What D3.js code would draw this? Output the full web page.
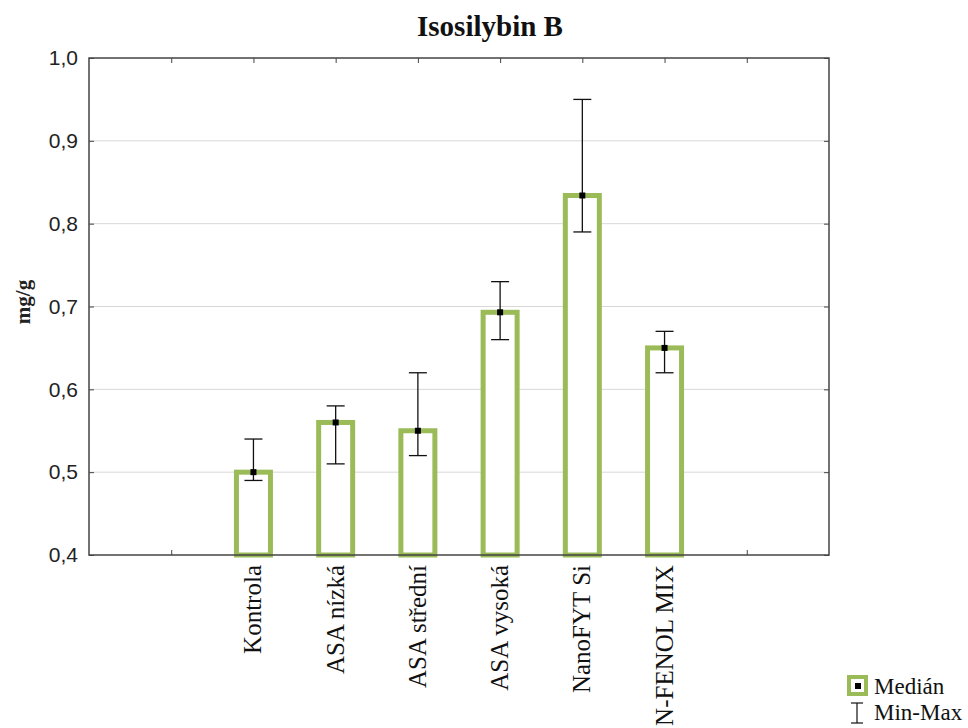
<!DOCTYPE html>
<html><head><meta charset="utf-8">
<script src="https://cdn.jsdelivr.net/npm/d3@7"></script>
<style>body{margin:0;background:#fff}</style>
</head><body>
<svg id="c" width="968" height="728"></svg>
<script>
const categories = ["Kontrola","ASA nízká","ASA střední","ASA vysoká","NanoFYT Si","N-FENOL MIX"];
const medians = [0.50, 0.56, 0.55, 0.693, 0.834, 0.65];
const mins    = [0.49, 0.51, 0.52, 0.66, 0.79, 0.62];
const maxs    = [0.54, 0.58, 0.62, 0.73, 0.95, 0.67];
const yTicks  = [0.4,0.5,0.6,0.7,0.8,0.9,1.0];
const title = "Isosilybin B";
const yLabel = "mg/g";

const SERIF = "font-family:'Liberation Serif','Times New Roman',serif";
const SANS = "font-family:'Liberation Sans',Arial,sans-serif";

const svg = d3.select("#c");
const L=89, R=829, T=58, B=555;
const green = "#9bbb59";
const x = d3.scaleLinear().domain([0, categories.length+3]).range([L,R]);
const y = d3.scaleLinear().domain([0.4,1.0]).range([B,T]);
const xPos = i => x(i+2);
const fmt = v => d3.format(".1f")(v).replace(".", ",");

// gridlines
svg.append("g").selectAll("line").data(yTicks.slice(1,-1)).join("line")
  .attr("x1",L).attr("x2",R).attr("y1",d=>y(d)).attr("y2",d=>y(d))
  .attr("stroke","#d8d8d8").attr("stroke-width",1);

// y axis
const ya = svg.append("g").attr("transform",`translate(${L},0)`)
  .call(d3.axisLeft(y).tickValues(yTicks).tickFormat(fmt).tickSize(-5).tickPadding(11));
ya.select(".domain").remove();
ya.selectAll("line").attr("stroke","#444");
ya.selectAll("text").attr("font-family",null).attr("style",SANS).attr("font-size",21).attr("fill","#222");

const yr = svg.append("g").attr("transform",`translate(${R},0)`)
  .call(d3.axisRight(y).tickValues(yTicks).tickFormat("").tickSize(-5));
yr.select(".domain").remove();
yr.selectAll("line").attr("stroke","#444");

// x ticks top and bottom
const xt = d3.range(1, categories.length+3);
const xb = svg.append("g").attr("transform",`translate(0,${B})`)
  .call(d3.axisBottom(x).tickValues(xt).tickFormat("").tickSize(-5));
xb.select(".domain").remove(); xb.selectAll("line").attr("stroke","#444");
const xtop = svg.append("g").attr("transform",`translate(0,${T})`)
  .call(d3.axisTop(x).tickValues(xt).tickFormat("").tickSize(-5));
xtop.select(".domain").remove(); xtop.selectAll("line").attr("stroke","#444");

// bars
const bw = 34;
svg.append("g").selectAll("rect").data(medians).join("rect")
  .attr("x",(d,i)=>xPos(i)-bw/2).attr("width",bw)
  .attr("y",d=>y(d)).attr("height",d=>B-y(d))
  .attr("fill","#fff").attr("stroke",green).attr("stroke-width",5);

// error bars
const cap = 18;
const eg = svg.append("g").attr("stroke","#111").attr("stroke-width",1.3);
categories.forEach((c,i)=>{
  const cx = xPos(i);
  eg.append("line").attr("x1",cx).attr("x2",cx).attr("y1",y(mins[i])).attr("y2",y(maxs[i]));
  eg.append("line").attr("x1",cx-cap/2).attr("x2",cx+cap/2).attr("y1",y(mins[i])).attr("y2",y(mins[i]));
  eg.append("line").attr("x1",cx-cap/2).attr("x2",cx+cap/2).attr("y1",y(maxs[i])).attr("y2",y(maxs[i]));
});
svg.append("g").selectAll("rect").data(medians).join("rect")
  .attr("x",(d,i)=>xPos(i)-3).attr("y",d=>y(d)-3).attr("width",6).attr("height",6).attr("fill","#000");

// frame
svg.append("rect").attr("x",L).attr("y",T).attr("width",R-L).attr("height",B-T)
  .attr("fill","none").attr("stroke","#444").attr("stroke-width",1.5);

// x labels
svg.append("g").selectAll("text").data(categories).join("text")
  .attr("style",SERIF)
  .attr("transform",(d,i)=>`translate(${xPos(i)+8},565) rotate(-90)`)
  .attr("text-anchor","end").attr("font-size",25).attr("fill","#111").text(d=>d);

// title
svg.append("text").attr("style",SERIF).attr("x",490).attr("y",36).attr("text-anchor","middle")
  .attr("font-weight","bold").attr("font-size",29).attr("fill","#111").text(title);

// y label
svg.append("text").attr("style",SERIF).attr("transform","translate(30,302) rotate(-90)").attr("text-anchor","middle")
  .attr("font-weight","bold").attr("font-size",21).attr("fill","#222").text(yLabel);

// legend
const lg = svg.append("g");
lg.append("rect").attr("x",849).attr("y",677).attr("width",17).attr("height",17)
  .attr("fill","#fff").attr("stroke",green).attr("stroke-width",4);
lg.append("rect").attr("x",855).attr("y",683).attr("width",6).attr("height",6).attr("fill","#000");
lg.append("text").attr("style",SERIF).attr("x",874).attr("y",694)
  .attr("font-size",23).attr("fill","#111").text("Medián");
lg.append("line").attr("x1",857).attr("x2",857).attr("y1",703).attr("y2",723).attr("stroke","#111").attr("stroke-width",1.2);
lg.append("line").attr("x1",851).attr("x2",863).attr("y1",703).attr("y2",703).attr("stroke","#111").attr("stroke-width",1.2);
lg.append("line").attr("x1",851).attr("x2",863).attr("y1",723).attr("y2",723).attr("stroke","#111").attr("stroke-width",1.2);
lg.append("text").attr("style",SERIF).attr("x",874).attr("y",720)
  .attr("font-size",23).attr("fill","#111").text("Min-Max");
</script>
</body></html>
